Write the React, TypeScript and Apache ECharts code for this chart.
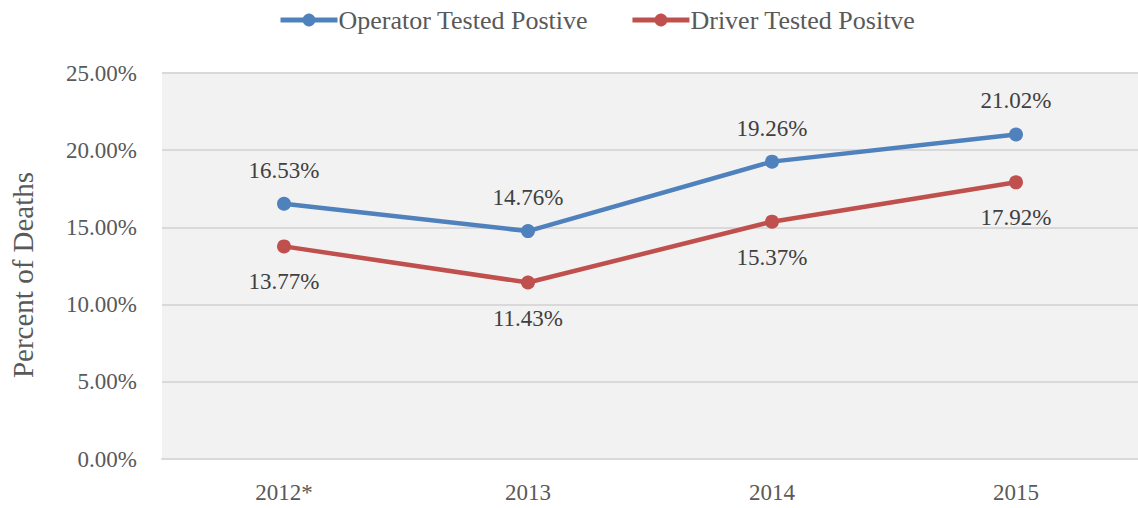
import React, { useEffect, useRef } from "react";
import * as echarts from "echarts";

const categories = ["2012*", "2013", "2014", "2015"];
const operatorValues = [16.53, 14.76, 19.26, 21.02];
const driverValues = [13.77, 11.43, 15.37, 17.92];
const seriesNames = ["Operator Tested Postive", "Driver Tested Positve"];

const FONT = "'Liberation Serif', 'DejaVu Serif', serif";

export default function App() {
  const ref = useRef<HTMLDivElement>(null);
  useEffect(() => {
    if (!ref.current) return;
    const chart = echarts.init(ref.current, undefined, { renderer: "svg" });
    chart.setOption({
      animation: false,
      textStyle: { fontFamily: FONT },
      legend: {
        top: 2,
        left: 273,
        itemWidth: 57,
        itemHeight: 16,
        itemGap: 42,
        lineStyle: { width: 5 },
        textStyle: { fontFamily: FONT, fontSize: 26, color: "#595959", padding: [0, 0, 0, -4] },
        data: seriesNames.map((n) => ({ name: n })),
      },
      grid: { left: 162, right: -4, top: 73, bottom: 49, backgroundColor: "#f2f2f2", show: true, borderWidth: 0 },
      xAxis: {
        type: "category",
        data: categories,
        boundaryGap: true,
        axisLine: { lineStyle: { color: "#d9d9d9", width: 2 } },
        axisTick: { show: false },
        axisLabel: { fontFamily: FONT, fontSize: 23, color: "#595959", margin: 22 },
      },
      yAxis: {
        type: "value",
        min: 0,
        max: 25,
        interval: 5,
        name: "Percent of Deaths",
        nameLocation: "middle",
        nameGap: 125,
        nameTextStyle: { fontFamily: FONT, fontSize: 29, color: "#595959", padding: [0, 18, 0, 0] },
        axisLine: { show: false },
        axisTick: { show: false },
        splitLine: { lineStyle: { color: "#d9d9d9", width: 2 } },
        axisLabel: {
          fontFamily: FONT,
          fontSize: 23,
          color: "#595959",
          margin: 25,
          formatter: (v: number) => v.toFixed(2) + "%",
        },
      },
      series: [
        {
          name: seriesNames[0],
          type: "line",
          data: operatorValues,
          color: "#4f81bd",
          lineStyle: { width: 4.5 },
          symbol: "circle",
          symbolSize: 14,
          label: {
            show: true,
            position: "top",
            distance: 15,
            fontFamily: FONT,
            fontSize: 23,
            color: "#404040",
            formatter: (p: any) => p.value.toFixed(2) + "%",
          },
        },
        {
          name: seriesNames[1],
          type: "line",
          data: driverValues,
          color: "#c0504d",
          lineStyle: { width: 4.5 },
          symbol: "circle",
          symbolSize: 14,
          label: {
            show: true,
            position: "bottom",
            distance: 17,
            fontFamily: FONT,
            fontSize: 23,
            color: "#404040",
            formatter: (p: any) => p.value.toFixed(2) + "%",
          },
        },
      ],
    });
    return () => chart.dispose();
  }, []);
  return <div ref={ref} style={{ width: 1138, height: 508, position: "absolute", left: 0, top: 0 }} />;
}
